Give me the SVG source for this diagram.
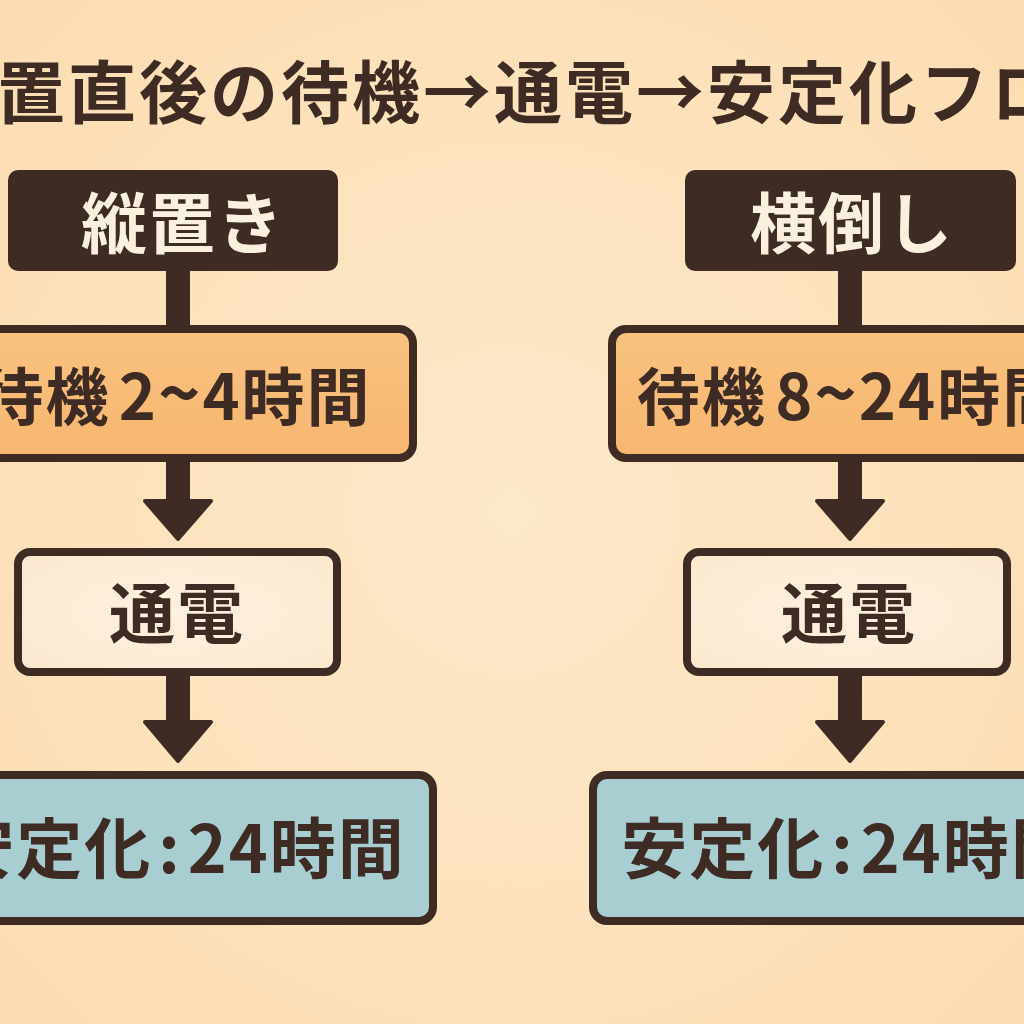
<svg xmlns="http://www.w3.org/2000/svg" width="1024" height="1024" viewBox="0 0 1024 1024">
  <defs>
    <radialGradient id="bg" cx="0.5" cy="0.5" r="0.75">
      <stop offset="0" stop-color="#fde8ca"/>
      <stop offset="1" stop-color="#fcdcb0"/>
    </radialGradient>
    <linearGradient id="orange" x1="0" y1="0" x2="0" y2="1">
      <stop offset="0" stop-color="#f9c27f"/>
      <stop offset="1" stop-color="#f6b670"/>
    </linearGradient>
    <radialGradient id="cream" cx="0.5" cy="0.5" r="0.7">
      <stop offset="0" stop-color="#fdf1df"/>
      <stop offset="1" stop-color="#fbe9cf"/>
    </radialGradient>
  </defs>
  <style>
    text { font-family: "Noto Sans CJK JP", "Noto Sans", sans-serif; font-weight: 700; }
    .title { font-size: 68px; fill: #3d2b24; letter-spacing: 3px; }
    .head { fill: #3d2b24; }
    .headtxt { font-size: 66px; fill: #fbf0de; letter-spacing: 2px; text-anchor: middle; }
    .box { stroke: #3d2b24; stroke-width: 8; }
    .wait { fill: url(#orange); }
    .power { fill: url(#cream); }
    .stable { fill: #a8ced2; }
    .lbl { fill: #3d2b24; text-anchor: middle; letter-spacing: 2px; }
    .arrow { fill: #3d2b24; stroke: #3d2b24; stroke-width: 4; stroke-linejoin: round; }
  </style>
  <rect width="1024" height="1024" fill="url(#bg)"/>

  <text class="title" x="-74" y="118">設置直後の待機→通電→安定化フロー</text>

  <g id="connectors">
    <rect class="head" x="166" y="266" width="24" height="66"/>
    <rect class="head" x="838" y="266" width="24" height="66"/>
    <path class="arrow" d="M168,458 V501 H145 L178,539 L211,501 H188 V458 Z"/>
    <path class="arrow" d="M840,458 V501 H817 L850,539 L883,501 H860 V458 Z"/>
    <path class="arrow" d="M168,672 V722 H145 L178,761 L211,722 H188 V672 Z"/>
    <path class="arrow" d="M840,672 V722 H817 L850,761 L883,722 H860 V672 Z"/>
  </g>

  <g id="left-head">
    <rect class="head" x="8" y="170" width="330" height="101" rx="10"/>
    <text class="headtxt" x="183" y="248">縦置き</text>
  </g>
  <g id="right-head">
    <rect class="head" x="685" y="170" width="331" height="101" rx="10"/>
    <text class="headtxt" x="852" y="248">横倒し</text>
  </g>

  <g id="left-wait">
    <rect class="box wait" x="-57" y="329" width="470" height="129" rx="14"/>
    <text class="lbl" x="176" y="420" font-size="63" word-spacing="-8">待機 2<tspan font-size="72">~</tspan>4時間</text>
  </g>
  <g id="right-wait">
    <rect class="box wait" x="612" y="329" width="476" height="129" rx="14"/>
    <text class="lbl" x="852" y="420" font-size="63" word-spacing="-8">待機 8<tspan font-size="72">~</tspan>24時間</text>
  </g>

  <g id="left-power">
    <rect class="box power" x="18" y="552" width="319" height="120" rx="12"/>
    <text class="lbl" x="177" y="638" font-size="66">通電</text>
  </g>
  <g id="right-power">
    <rect class="box power" x="687" y="552" width="320" height="120" rx="12"/>
    <text class="lbl" x="849" y="638" font-size="66">通電</text>
  </g>

  <g id="left-stable">
    <rect class="box stable" x="-76" y="775" width="509" height="146" rx="14"/>
    <text class="lbl" x="177" y="873" font-size="66">安定化<tspan dx="6">:</tspan><tspan dx="6">24時間</tspan></text>
  </g>
  <g id="right-stable">
    <rect class="box stable" x="593" y="775" width="514" height="146" rx="14"/>
    <text class="lbl" x="850" y="873" font-size="66">安定化<tspan dx="6">:</tspan><tspan dx="6">24時間</tspan></text>
  </g>
</svg>
